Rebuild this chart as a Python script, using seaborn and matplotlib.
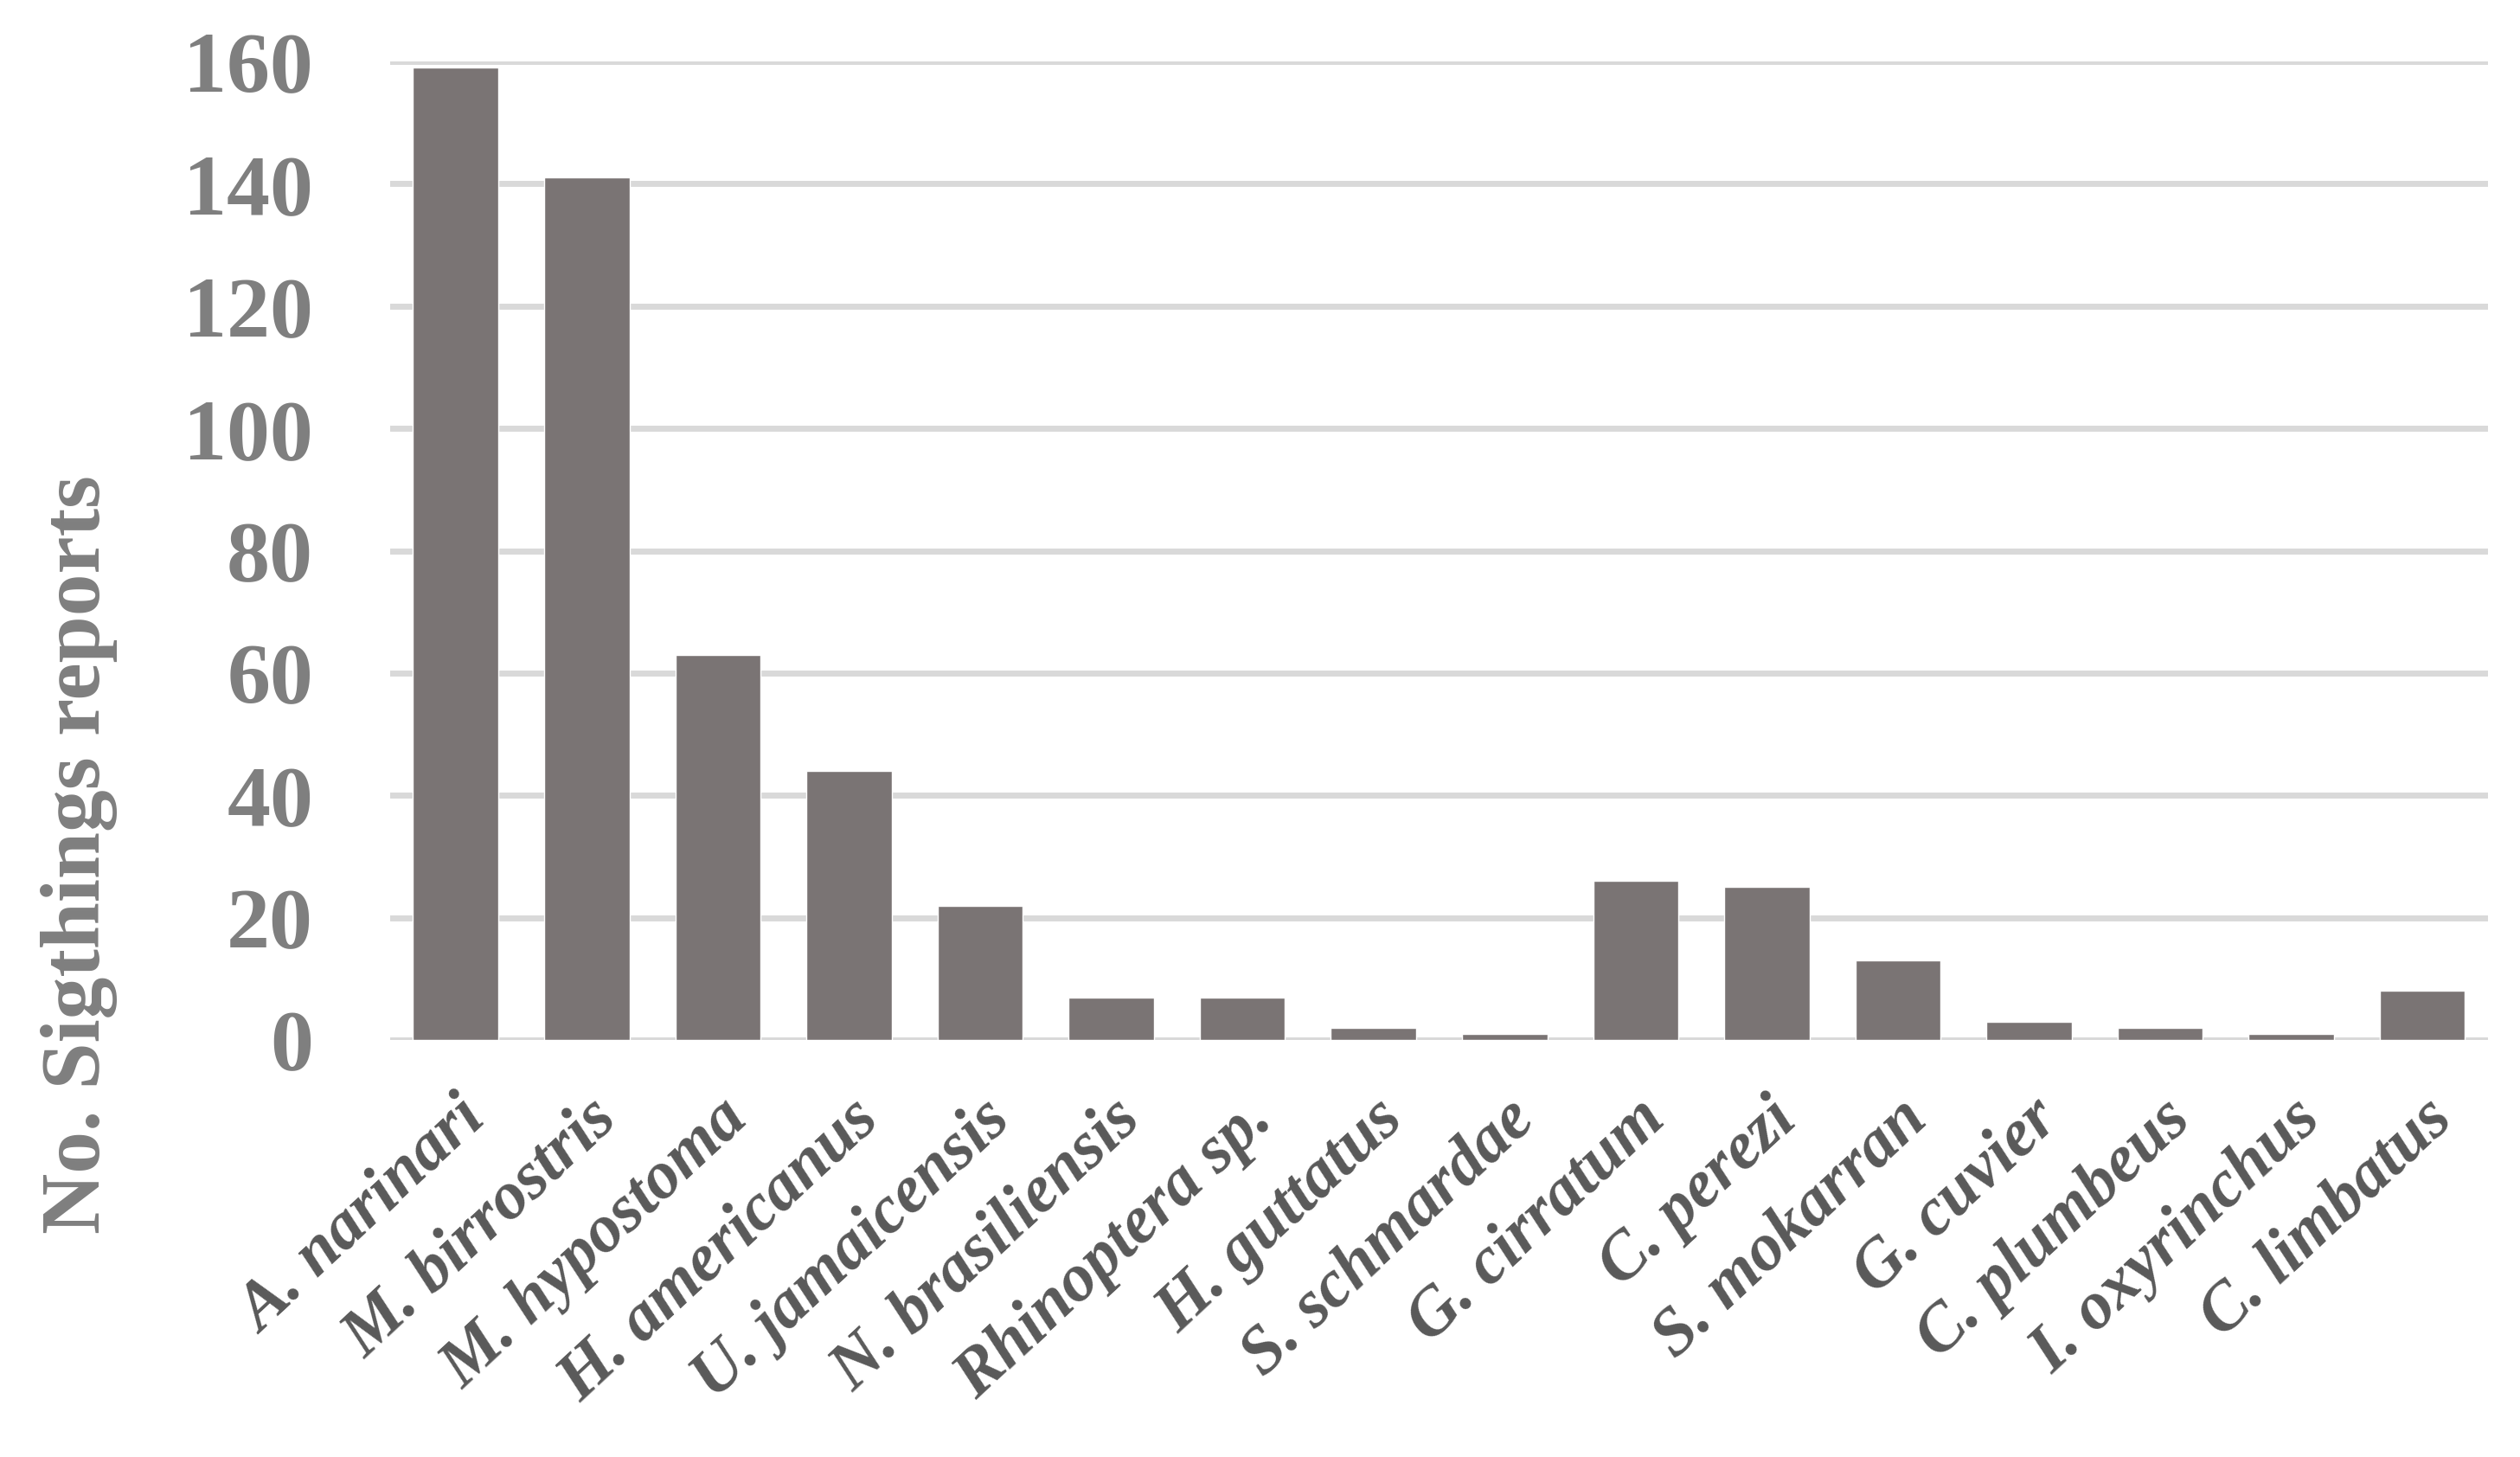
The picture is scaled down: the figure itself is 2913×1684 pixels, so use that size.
import matplotlib
matplotlib.use("Agg")
import matplotlib.pyplot as plt
from matplotlib import font_manager
from matplotlib.font_manager import FontProperties
import seaborn as sns
import pandas as pd

species = ["A. narinari", "M. birrostris", "M. hypostoma", "H. americanus",
           "U. jamaicensis", "N. brasiliensis", "Rhinoptera sp.", "H. guttatus",
           "S. schmardae", "G. cirratum", "C. perezi", "S. mokarran",
           "G. cuvier", "C. plumbeus", "I. oxyrinchus", "C. limbatus"]
sightings = [159, 141, 63, 44, 22, 7, 7, 2, 1, 26, 25, 13, 3, 2, 1, 8]
yticks = [0, 20, 40, 60, 80, 100, 120, 140, 160]

df = pd.DataFrame({"species": species, "sightings": sightings})

sns.set_theme(style="white")


def find_font(style):
    for pref in ["Liberation Serif", "Tinos", "Times New Roman"]:
        for f in font_manager.fontManager.ttflist:
            w = f.weight if isinstance(f.weight, int) else (700 if "bold" in str(f.weight).lower() else 400)
            if f.name == pref and w >= 600 and f.style == style:
                return f.fname
    return None


bold_file = find_font("normal")
bi_file = find_font("italic")


def fp(fname, size, style="normal"):
    if fname:
        return FontProperties(fname=fname, size=size)
    return FontProperties(family="serif", weight="bold", style=style, size=size)


fig = plt.figure(figsize=(29.13, 16.84), dpi=100)
ax = fig.add_axes([0.1548, 0.2862, 0.8325, 0.6716])

for y in yticks:
    ax.axhline(y, color="#d9d9d9", lw=5, zorder=0)

sns.barplot(data=df, x="species", y="sightings", color="#7a7474",
            saturation=1, width=0.65, ax=ax, zorder=2)

ax.set_xlim(-0.5, len(species) - 0.5)
ax.set_ylim(0, 160)
ax.set_yticks(yticks)
ax.set_yticklabels([str(v) for v in yticks], fontproperties=fp(bold_file, 72),
                   color="#7f7f7f")
ax.tick_params(axis="y", length=0, pad=64)
ax.tick_params(axis="x", length=0, pad=40)
ax.set_xticks(range(len(species)))
ax.set_xticklabels(species, rotation=43, ha="right", va="top",
                   rotation_mode="anchor", fontproperties=fp(bi_file, 56, "italic"),
                   color="#595959")
ax.set_xlabel("")
ax.set_ylabel("No. Sigthings reports", fontproperties=fp(bold_file, 70),
              color="#7f7f7f")
ax.yaxis.set_label_coords(-0.13, 0.19)
for s in ax.spines.values():
    s.set_visible(False)
ax.grid(False)

fig.savefig("out.png", dpi=100)
